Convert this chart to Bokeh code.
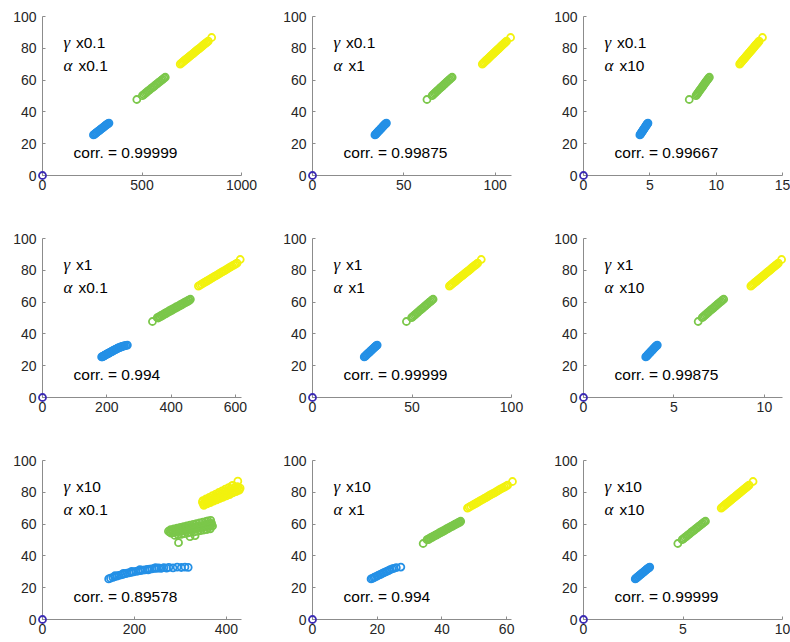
from bokeh.plotting import figure
from bokeh.layouts import gridplot
from bokeh.models import Range1d, FixedTicker, Label
from bokeh.embed import file_html
from bokeh.resources import INLINE

# ---------------- data ----------------
Y_TICKS = [0, 20, 40, 60, 80, 100]

# y values shared by the "thin band" panels
Y_BLUE = [25.5, 25.9, 26.4, 26.8, 27.3, 27.7, 28.2, 28.6, 29.1, 29.5, 30.0, 30.4, 30.9, 31.3, 31.8, 32.2, 32.6, 33.0]
Y_GREEN = [47.8, 50.2, 50.9, 51.6, 52.3, 53.0, 53.7, 54.4, 55.1, 55.7, 56.4, 57.1, 57.8, 58.5, 59.2, 59.9, 60.5, 61.2, 61.8]
Y_YELLOW = [70.1, 70.7, 71.3, 71.9, 72.5, 73.1, 73.7, 74.3, 74.9, 75.5, 76.1, 76.7, 77.3, 77.9, 78.5, 79.1, 79.7, 80.3,
            80.9, 81.5, 82.1, 82.7, 83.3, 83.9, 84.5, 86.8]

ORIGIN_X = [0]
ORIGIN_Y = [0]

# gamma x0.1, alpha x0.1
X_A_BLUE = [256, 261, 265, 270, 274, 279, 284, 288, 293, 297, 302, 307, 311, 316, 320, 325, 329, 334]
X_A_GREEN = [474, 502, 509, 516, 522, 529, 536, 543, 550, 557, 563, 570, 577, 584, 591, 598, 604, 611, 617]
X_A_YELLOW = [692, 698, 704, 710, 715, 721, 727, 733, 739, 745, 751, 757, 762, 768, 774, 780, 786, 792, 798, 804,
              809, 815, 821, 827, 833, 850]

# gamma x0.1, alpha x1
X_B_BLUE = [34.2, 34.6, 34.9, 35.3, 35.7, 36.0, 36.4, 36.8, 37.2, 37.5, 37.9, 38.3, 38.6, 39.0, 39.4, 39.7, 40.1, 40.5]
X_B_GREEN = [62.7, 65.5, 66.1, 66.8, 67.4, 68.1, 68.7, 69.4, 70.0, 70.7, 71.3, 72.0, 72.6, 73.3, 73.9, 74.6, 75.2,
             75.9, 76.5]
X_B_YELLOW = [93.0, 93.6, 94.1, 94.7, 95.2, 95.8, 96.3, 96.9, 97.4, 98.0, 98.5, 99.1, 99.6, 100.2, 100.8, 101.3,
              101.9, 102.4, 103.0, 103.5, 104.1, 104.6, 105.2, 105.7, 106.3, 108.5]

# gamma x0.1, alpha x10
X_C_BLUE = [4.25, 4.29, 4.32, 4.36, 4.39, 4.43, 4.47, 4.50, 4.54, 4.57, 4.61, 4.65, 4.68, 4.72, 4.75, 4.79, 4.82, 4.86]
X_C_GREEN = [7.97, 8.48, 8.54, 8.60, 8.66, 8.72, 8.78, 8.84, 8.90, 8.96, 9.01, 9.07, 9.13, 9.19, 9.25, 9.31, 9.37,
             9.43, 9.49]
X_C_YELLOW = [11.77, 11.83, 11.89, 11.95, 12.01, 12.07, 12.14, 12.20, 12.26, 12.32, 12.38, 12.44, 12.50, 12.57,
              12.63, 12.69, 12.75, 12.81, 12.87, 12.93, 12.99, 13.06, 13.12, 13.18, 13.24, 13.49]

# gamma x1, alpha x0.1 (thicker bands: a second row of points)
X_D_BLUE = [184, 187, 192, 195, 200, 203, 208, 211, 216, 219, 224, 228, 233, 237, 243, 248, 255, 264]
X_D_BLUE_2 = [186, 190, 194, 198, 202, 206, 210, 214, 218, 222, 226, 231, 235, 240, 246, 252, 260]
Y_D_BLUE_2 = [25.6, 26.0, 26.5, 26.9, 27.4, 27.8, 28.3, 28.7, 29.2, 29.6, 30.1, 30.5, 31.0, 31.4, 31.9, 32.3, 32.7]
X_D_GREEN = [342, 357, 363, 369, 375, 381, 387, 393, 399, 405, 411, 417, 424, 430, 436, 442, 448, 454, 460]
X_D_GREEN_2 = [360, 366, 372, 378, 384, 390, 396, 402, 408, 414, 420, 427, 433, 439, 445, 451, 457]
Y_D_GREEN_2 = [50.0, 50.7, 51.4, 52.1, 52.8, 53.5, 54.2, 54.8, 55.5, 56.2, 56.9, 57.6, 58.3, 59.0, 59.7, 60.3, 61.0]
X_D_YELLOW = [485, 490, 495, 500, 505, 510, 515, 520, 525, 530, 535, 540, 545, 550, 555, 560, 565, 570, 575, 580,
              585, 590, 595, 600, 605, 615]

# gamma x1, alpha x1
X_E_BLUE = [26.0, 26.4, 26.8, 27.1, 27.5, 27.9, 28.3, 28.7, 29.1, 29.4, 29.8, 30.2, 30.6, 31.0, 31.4, 31.7, 32.1, 32.5]
X_E_GREEN = [47.2, 49.8, 50.4, 51.1, 51.7, 52.4, 53.0, 53.6, 54.3, 54.9, 55.5, 56.2, 56.8, 57.5, 58.1, 58.7, 59.4,
             60.0, 60.6]
X_E_YELLOW = [68.8, 69.4, 70.0, 70.6, 71.2, 71.8, 72.3, 72.9, 73.5, 74.1, 74.7, 75.3, 75.9, 76.5, 77.1, 77.7, 78.3,
              78.9, 79.5, 80.0, 80.6, 81.2, 81.8, 82.4, 83.0, 84.8]

# gamma x1, alpha x10
X_F_BLUE = [3.44, 3.48, 3.52, 3.55, 3.59, 3.63, 3.67, 3.70, 3.74, 3.78, 3.82, 3.85, 3.89, 3.93, 3.97, 4.00, 4.04, 4.08]
X_F_GREEN = [6.34, 6.56, 6.63, 6.70, 6.77, 6.84, 6.91, 6.98, 7.05, 7.12, 7.19, 7.26, 7.33, 7.40, 7.47, 7.54, 7.61,
             7.68, 7.75]
X_F_YELLOW = [9.25, 9.31, 9.38, 9.44, 9.50, 9.57, 9.63, 9.69, 9.76, 9.82, 9.88, 9.95, 10.01, 10.07, 10.14, 10.20,
              10.26, 10.33, 10.39, 10.45, 10.52, 10.58, 10.64, 10.71, 10.77, 10.95]

# gamma x10, alpha x0.1 (scattered clusters, own x and y)
X_G_BLUE = [144, 148, 153, 157, 162, 166, 171, 175, 180, 184, 189, 193, 198, 203, 208, 213, 218, 223, 228, 233,
            238, 243, 248, 253, 258, 264, 270, 275, 284, 293, 302, 310, 317, 158, 176, 194, 212, 230, 246]
Y_G_BLUE = [25.5, 26.0, 26.5, 26.9, 27.3, 27.7, 28.1, 28.4, 28.8, 29.1, 29.4, 29.7, 30.0, 30.3, 30.5, 30.8, 31.0,
            31.2, 31.5, 31.7, 31.9, 32.1, 32.2, 32.4, 32.1, 32.6, 32.3, 32.8, 32.5, 32.9, 32.7, 33.0, 32.8,
            27.6, 29.0, 30.3, 31.4, 31.2, 32.6]
X_G_GREEN = [288, 295, 302, 309, 316, 323, 330, 337, 344, 351, 358, 365,
             280, 287, 294, 301, 308, 315, 322, 329, 336, 343, 350, 357, 364, 370,
             277, 284, 291, 298, 305, 312, 319, 326, 333, 340, 347, 354, 361, 367,
             274, 281, 288, 295, 302, 309, 316, 323, 330, 337, 344, 351, 358, 365, 368,
             279, 286, 293, 300, 307, 314, 321, 328, 335, 342, 349, 356, 360,
             296, 321, 332, 366]
Y_G_GREEN = [52.9, 53.3, 53.6, 54.0, 54.4, 54.8, 55.1, 55.5, 55.9, 56.3, 56.6, 57.0,
             54.3, 54.7, 55.0, 55.4, 55.7, 56.1, 56.4, 56.8, 57.1, 57.5, 57.8, 58.2, 58.5, 58.8,
             55.0, 55.3, 55.7, 56.0, 56.4, 56.7, 57.1, 57.4, 57.8, 58.1, 58.5, 58.8, 59.2, 59.5,
             55.5, 55.9, 56.2, 56.6, 56.9, 57.3, 57.7, 58.0, 58.4, 58.8, 59.1, 59.5, 59.9, 60.2, 60.4,
             56.5, 57.0, 57.4, 57.9, 58.4, 58.9, 59.3, 59.8, 60.3, 60.8, 61.2, 61.7, 62.0,
             48.3, 52.1, 52.7, 62.4]
X_G_YELLOW = [351, 358, 365, 372, 379, 386, 393, 400, 407, 414, 421, 428,
              350, 357, 364, 371, 378, 385, 392, 399, 406, 413, 420, 427, 430,
              353, 360, 367, 374, 381, 388, 395, 402, 409, 416, 423,
              348, 355, 362, 369, 376, 383, 390, 397, 404, 411, 418, 424,
              349, 356, 363, 370, 377, 384, 391, 398, 405, 412, 414,
              425]
Y_G_YELLOW = [71.8, 72.7, 73.5, 74.4, 75.2, 76.1, 76.9, 77.8, 78.6, 79.6, 80.4, 81.3,
              72.8, 73.7, 74.5, 75.4, 76.2, 77.1, 77.9, 78.8, 79.6, 80.5, 81.3, 82.2, 82.6,
              73.3, 74.2, 75.1, 75.9, 76.8, 77.7, 78.6, 79.4, 80.3, 81.2, 82.1,
              73.8, 74.7, 75.6, 76.5, 77.4, 78.3, 79.2, 80.2, 81.1, 82.0, 82.9, 83.6,
              74.8, 75.8, 76.8, 77.9, 78.9, 79.9, 80.9, 82.0, 83.0, 84.0, 84.3,
              87.0]

# gamma x10, alpha x1
X_H_BLUE = [18.1, 18.5, 19.0, 19.4, 19.9, 20.3, 20.8, 21.2, 21.7, 22.1, 22.6, 23.1, 23.6, 24.0, 24.6, 25.1, 25.9, 27.3]
X_H_GREEN = [34.2, 35.4, 36.0, 36.6, 37.2, 37.9, 38.5, 39.1, 39.7, 40.3, 40.9, 41.5, 42.1, 42.8, 43.4, 44.0, 44.6,
             45.2, 45.8]
X_H_GREEN_2 = [35.8, 36.4, 37.0, 37.6, 38.3, 38.9, 39.5, 40.1, 40.7, 41.3, 41.9, 42.5, 43.2, 43.8, 44.4, 45.0, 45.6]
Y_H_GREEN_2 = [50.3, 51.0, 51.7, 52.4, 53.1, 53.8, 54.5, 55.1, 55.8, 56.5, 57.2, 57.9, 58.6, 59.3, 59.9, 60.6, 61.3]
X_H_YELLOW = [47.9, 48.4, 48.9, 49.5, 50.0, 50.5, 51.0, 51.5, 52.0, 52.6, 53.1, 53.6, 54.1, 54.6, 55.1, 55.7, 56.2,
              56.7, 57.2, 57.7, 58.2, 58.8, 59.3, 59.8, 60.3, 61.8]

# gamma x10, alpha x10
X_I_BLUE = [2.60, 2.64, 2.68, 2.73, 2.77, 2.81, 2.86, 2.90, 2.94, 2.99, 3.03, 3.07, 3.12, 3.16, 3.20, 3.25, 3.29, 3.33]
X_I_GREEN = [4.74, 4.96, 5.03, 5.10, 5.17, 5.24, 5.31, 5.38, 5.44, 5.51, 5.58, 5.65, 5.72, 5.79, 5.86, 5.93, 5.99,
             6.06, 6.13]
X_I_YELLOW = [6.92, 6.98, 7.04, 7.10, 7.15, 7.21, 7.27, 7.33, 7.39, 7.45, 7.50, 7.56, 7.62, 7.68, 7.74, 7.80, 7.85,
              7.91, 7.97, 8.03, 8.09, 8.15, 8.20, 8.26, 8.32, 8.52]

GAMMA_LABELS = ["x0.1", "x1", "x10"]
ALPHA_LABELS = ["x0.1", "x1", "x10"]
CORR = [["0.99999", "0.99875", "0.99667"],
        ["0.994", "0.99999", "0.99875"],
        ["0.89578", "0.994", "0.99999"]]
X_MAX = [[1000, 109, 15], [619, 100, 11], [433, 61.5, 10]]
X_TICKS = [[[0, 500, 1000], [0, 50, 100], [0, 5, 10, 15]],
           [[0, 200, 400, 600], [0, 50, 100], [0, 5, 10]],
           [[0, 200, 400], [0, 20, 40, 60], [0, 5, 10]]]

SERIES = [
    [(X_A_BLUE, Y_BLUE, X_A_GREEN, Y_GREEN, X_A_YELLOW, Y_YELLOW),
     (X_B_BLUE, Y_BLUE, X_B_GREEN, Y_GREEN, X_B_YELLOW, Y_YELLOW),
     (X_C_BLUE, Y_BLUE, X_C_GREEN, Y_GREEN, X_C_YELLOW, Y_YELLOW)],
    [(X_D_BLUE + X_D_BLUE_2, Y_BLUE + Y_D_BLUE_2, X_D_GREEN + X_D_GREEN_2, Y_GREEN + Y_D_GREEN_2,
      X_D_YELLOW, Y_YELLOW),
     (X_E_BLUE, Y_BLUE, X_E_GREEN, Y_GREEN, X_E_YELLOW, Y_YELLOW),
     (X_F_BLUE, Y_BLUE, X_F_GREEN, Y_GREEN, X_F_YELLOW, Y_YELLOW)],
    [(X_G_BLUE, Y_G_BLUE, X_G_GREEN, Y_G_GREEN, X_G_YELLOW, Y_G_YELLOW),
     (X_H_BLUE, Y_BLUE, X_H_GREEN + X_H_GREEN_2, Y_GREEN + Y_H_GREEN_2, X_H_YELLOW, Y_YELLOW),
     (X_I_BLUE, Y_BLUE, X_I_GREEN, Y_GREEN, X_I_YELLOW, Y_YELLOW)],
]

# ---------------- styling ----------------
BLUE = "#2490e6"
GREEN = "#7bc74a"
YELLOW = "#f2f20e"
PURPLE = "#3b2bb3"
AXIS_COLOR = "#8c8c8c"
TICK_TEXT = "#262626"
SANS = "Liberation Sans"
SERIF = "Liberation Serif"

COL_W = [278, 270, 242]
COL_BL = [42, 34, 35]
COL_BR = [37, 37, 8]
ROW_H = [230, 222, 190]
ROW_BT = [16, 8, 8]
ROW_BB = [55, 55, 23]


def make_panel(r, c):
    xmax = X_MAX[r][c]
    p = figure(width=COL_W[c], height=ROW_H[r],
               x_range=Range1d(0, xmax), y_range=Range1d(0, 100),
               output_backend="svg", toolbar_location=None,
               min_border_left=COL_BL[c], min_border_right=COL_BR[c],
               min_border_top=ROW_BT[r], min_border_bottom=ROW_BB[r])
    p.grid.visible = False
    p.outline_line_color = None
    p.background_fill_color = "white"
    p.border_fill_color = "white"
    for ax in (p.xaxis[0], p.yaxis[0]):
        ax.axis_line_color = AXIS_COLOR
        ax.axis_line_width = 1
        ax.major_tick_line_color = AXIS_COLOR
        ax.major_tick_in = 3
        ax.major_tick_out = 0
        ax.minor_tick_line_color = None
        ax.major_label_text_font = SANS
        ax.major_label_text_font_size = "14px"
        ax.major_label_text_color = TICK_TEXT
    p.xaxis[0].ticker = FixedTicker(ticks=X_TICKS[r][c])
    p.yaxis[0].ticker = FixedTicker(ticks=Y_TICKS)
    p.xaxis[0].major_label_standoff = 4
    p.yaxis[0].major_label_standoff = 6

    xb, yb, xg, yg, xy, yy = SERIES[r][c]
    for xs, ys, col in ((xb, yb, BLUE), (xg, yg, GREEN), (xy, yy, YELLOW), (ORIGIN_X, ORIGIN_Y, PURPLE)):
        p.scatter(xs, ys, marker="circle", size=7, fill_color=None,
                  line_color=col, line_width=1.8, level="overlay")

    gx = 0.1055 * xmax
    common = dict(text_baseline="middle", text_align="left", text_color="black")
    p.add_layout(Label(x=gx, y=83.6, text="γ", text_font=SERIF, text_font_style="italic",
                       text_font_size="17px", **common))
    p.add_layout(Label(x=gx, y=83.6, x_offset=12.5, text=GAMMA_LABELS[r], text_font=SANS,
                       text_font_size="15.5px", **common))
    p.add_layout(Label(x=gx, y=69.2, text="α", text_font=SERIF, text_font_style="italic",
                       text_font_size="17px", **common))
    p.add_layout(Label(x=gx, y=69.2, x_offset=15, text=ALPHA_LABELS[c], text_font=SANS,
                       text_font_size="15.5px", **common))
    p.add_layout(Label(x=0.156 * xmax, y=14.5, text="corr. = " + CORR[r][c], text_font=SANS,
                       text_font_size="15.5px", **common))
    return p


grid = gridplot([[make_panel(r, c) for c in range(3)] for r in range(3)], toolbar_location=None)

open("out.html", "w").write(file_html(grid, INLINE))
